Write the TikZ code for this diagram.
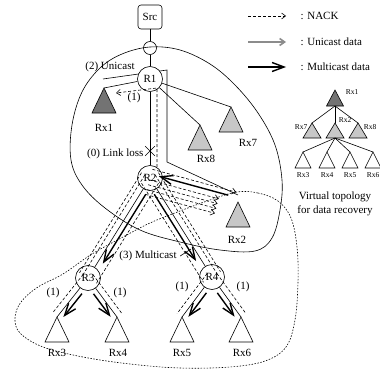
\documentclass[tikz,border=0pt]{standalone}
\usepackage{fontspec}
\setmainfont{Liberation Serif}
\usetikzlibrary{calc,arrows.meta,shapes.misc}
\begin{document}
\begin{tikzpicture}[x=1pt, y=-1pt, semithick,
    every node/.style={font=\fontsize{11}{13}\selectfont},
    router/.style={draw, circle, fill=white, minimum size=25pt, inner sep=0pt},
    small/.style={font=\fontsize{7.5}{9}\selectfont},
    nack/.style={dash pattern=on 3pt off 2pt, -{Straight Barb[length=4pt,width=6pt]}},
    nackline/.style={dash pattern=on 3pt off 2pt},
    ucast/.style={draw=black!45, line width=1.6pt, -{Straight Barb[length=5pt,width=7pt]}},
    mcast/.style={line width=1.4pt, -{Straight Barb[length=12pt,width=9pt]}}]
    \useasboundingbox (0,0) rectangle (380,369);
    \draw plot[smooth cycle, tension=0.6] coordinates {(150,47) (180,50) (210,64) (235,85) (258,113) (275,145) (282,180) (280,210) (272,238) (255,251) (220,250) (180,242) (140,230) (105,208) (82,185) (71,160) (72,125) (82,92) (100,68) (122,54)};
    \draw[dash pattern=on 1.5pt off 1.5pt] plot[smooth cycle, tension=0.6] coordinates {(237,192) (258,193) (278,201) (291,218) (297,247) (298,282) (295,320) (286,347) (265,361) (230,367) (180,368) (130,364) (83,357) (43,347) (20,333) (15,318) (21,302) (38,287) (63,274) (92,254) (123,237) (150,223) (180,211) (210,200)};
    \coordinate (u1) at (103,79);
    \coordinate (u2) at (167,70);
    \coordinate (u3) at (167,162);
    \coordinate (u4) at (238,195);
    \draw (u1) -- (u2) -- (u3) -- (u4);
    \node[draw, rounded corners=3pt, minimum width=24pt, minimum height=24pt] (src) at (150,17) {Src};
    \node[draw, circle, minimum size=13pt, inner sep=0pt] (jn) at (150,48) {};
    \node[router] (R1) at (150,79) {R1};
    \node[router] (R2) at (150,178) {R2};
    \node[router] (R3) at (88,278) {R3};
    \node[router] (R4) at (212,277) {R4};
    \foreach \n/\x/\y/\c in {rx1/104/88/black!55, rx8/200/125/black!22, rx7/231/107/black!22, rx2/238/202/black!22, rx3/57/317/white, rx4/117/317/white, rx5/182/317/white, rx6/241/317/white}
    {
        \coordinate (\n) at (\x,\y);
        \draw[fill=\c] (\n) -- ++(-12,25) -- ++(24,0) -- cycle;
    }
    \foreach \n/\x/\y in {1/104/128, 8/206/159, 7/248/143, 2/237/240, 3/57/353, 4/118/353, 5/182/353, 6/242/353}
        \node (lab\n) at (\x,\y) {Rx\n};
    \draw (src) -- (jn) -- (R1) -- (R2);
    \draw (R1) -- (rx1);
    \draw (R1) -- (rx8);
    \draw (R1) -- (rx7);
    \draw (R2) -- (R3);
    \draw (R2) -- (R4);
    \draw (R3) -- (rx3);
    \draw (R3) -- (rx4);
    \draw (R4) -- (rx5);
    \draw (R4) -- (rx6);
    \node[draw, cross out, minimum size=9pt, inner sep=0pt] (loss) at (150,151) {};
    \node[anchor=east] (losslab) at (147,154) {(0) Link loss};
    \node (ulab) at (110,67) {(2) Unicast};
    \node (mlab) at (148,256) {(3) Multicast};
    \coordinate (mtip) at (191,249);
    \draw (mlab.east) -- (mtip);
    \draw[mcast, shorten <=16pt, shorten >=20pt] ($(R2)!5pt!90:(R3)$) -- ($(R3)!5pt!-90:(R2)$);
    \draw[mcast, shorten <=16pt, shorten >=22pt] ($(R2)!5pt!-90:(R4)$) -- ($(R4)!5pt!90:(R2)$);
    \draw[mcast, shorten <=16pt, shorten >=4pt] ($(R3)!5pt!90:(rx3)$) -- ($(rx3)!5pt!-90:(R3)$);
    \draw[mcast, shorten <=16pt, shorten >=4pt] ($(R3)!5pt!-90:(rx4)$) -- ($(rx4)!5pt!90:(R3)$);
    \draw[mcast, shorten <=16pt, shorten >=4pt] ($(R4)!5pt!90:(rx5)$) -- ($(rx5)!5pt!-90:(R4)$);
    \draw[mcast, shorten <=16pt, shorten >=4pt] ($(R4)!5pt!-90:(rx6)$) -- ($(rx6)!5pt!90:(R4)$);
    \draw[mcast, shorten >=8pt] ($(R2)!80pt!(rx2)!4pt!90:(rx2)$) -- ($(R2)!4pt!90:(rx2)$);
    \draw[nackline] ($(R3)!6pt!-90:(rx3)$) -- ($(rx3)!6pt!90:(R3)$);
    \draw[nackline] ($(R3)!6pt!90:(rx4)$) -- ($(rx4)!6pt!-90:(R3)$);
    \draw[nackline] ($(R4)!6pt!-90:(rx5)$) -- ($(rx5)!6pt!90:(R4)$);
    \draw[nackline] ($(R4)!6pt!90:(rx6)$) -- ($(rx6)!6pt!-90:(R4)$);
    \foreach \o in {6pt,10pt}
    {
        \draw[nackline] ($(R2)!\o!-90:(R3)$) -- ($(R3)!\o!90:(R2)$);
        \draw[nackline] ($(R2)!\o!90:(R4)$) -- ($(R4)!\o!-90:(R2)$);
    }
    \draw[nackline] ($(R2)!10pt!90:(R3)$) -- ($(R3)!10pt!-90:(R2)$);
    \draw[nackline] ($(R2)!10pt!-90:(R4)$) -- ($(R4)!10pt!90:(R2)$);
    \foreach \o in {2pt,7pt,12pt,17pt}
        \draw[nack] ($(R2)!\o!-90:(rx2)$) -- ($(R2)!72pt!(rx2)!\o!-90:(rx2)$);
    \draw[nack] ($(R2)!9pt!90:(rx2)$) -- ($(R2)!87pt!(rx2)!9pt!90:(rx2)$);
    \coordinate (n1) at (116,93);
    \draw[nack, shorten <=11pt] ($(R2)!7pt!-90:(R1)$) -- ($(R1)!9pt!(R2)!7pt!-90:(R1)$) -- (n1);
    \foreach \n/\x/\y in {a/134/98, b/53/293, c/120/293, d/182/287, e/243/287}
        \node (one\n) at (\x,\y) {(1)};
    \coordinate (k1a) at (248,16);
    \coordinate (k1b) at (286,16);
    \coordinate (k2a) at (248,42);
    \coordinate (k2b) at (286,42);
    \coordinate (k3a) at (248,67);
    \coordinate (k3b) at (286,67);
    \draw[nack] (k1a) -- (k1b);
    \draw[ucast] (k2a) -- (k2b);
    \draw[mcast] (k3a) -- (k3b);
    \node[anchor=west] (k1) at (297,16) {: NACK};
    \node[anchor=west] (k2) at (297,42) {: Unicast data};
    \node[anchor=west] (k3) at (297,67) {: Multicast data};
    \foreach \n/\x/\y/\w/\h/\c in {v1/335/90/17/16/black!55, v7/312/123/18/15/black!22, v2/335/123/18/15/black!22, v8/358/123/18/15/black!22, v3/303/152/16/16/white, v4/327/152/16/16/white, v5/350/152/16/16/white, v6/373/152/16/16/white}
    {
        \coordinate (\n) at (\x,\y);
        \draw[fill=\c] (\n) -- ++(-\w/2,\h) -- ++(\w,0) -- cycle;
    }
    \coordinate (v1b) at (335,106);
    \coordinate (v2b) at (335,138);
    \foreach \t in {v7,v2,v8}
        \draw (v1b) -- (\t);
    \foreach \t in {v3,v4,v5,v6}
        \draw (v2b) -- (\t);
    \foreach \n/\x/\y in {1/352/92, 7/301/127, 2/345/120, 8/370/127, 3/303/175, 4/327/175, 5/350/175, 6/373/175}
        \node[small] (vl\n) at (\x,\y) {Rx\n};
    \node (vt1) at (335,197) {Virtual topology};
    \node (vt2) at (335,211) {for data recovery};
\end{tikzpicture}
\end{document}
